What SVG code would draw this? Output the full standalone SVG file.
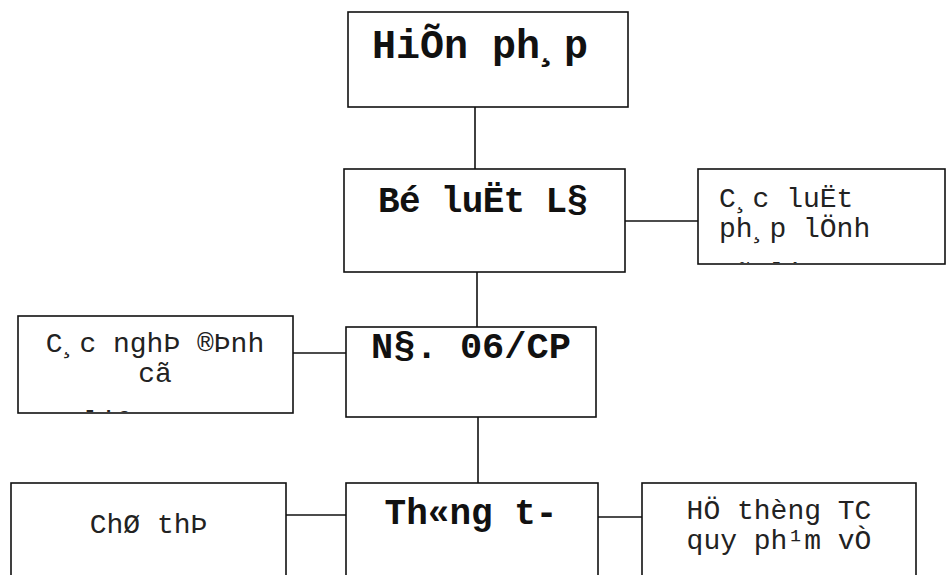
<svg xmlns="http://www.w3.org/2000/svg" width="948" height="575" viewBox="0 0 948 575">
<style>
.box{fill:#fff;stroke:#111;stroke-width:1.6}
.conn line{stroke:#111;stroke-width:1.6}
.h{font-family:"Liberation Mono","Courier New",monospace;font-weight:bold;fill:#111;text-anchor:middle}
.t{font-family:"Liberation Mono","Courier New",monospace;font-size:28px;fill:#222}
.c{text-anchor:middle}
</style>
<defs>
<clipPath id="cpR"><rect x="698" y="169" width="247" height="94"/></clipPath>
<clipPath id="cpL"><rect x="18" y="316" width="275" height="96"/></clipPath>
</defs>
<rect width="948" height="575" fill="#fff"/>
<g id="connectors" class="conn">
<line x1="475" y1="107" x2="475" y2="169"/>
<line x1="625" y1="221" x2="698" y2="221"/>
<line x1="477" y1="272" x2="477" y2="327"/>
<line x1="288" y1="353" x2="346" y2="353"/>
<line x1="478" y1="417" x2="478" y2="483"/>
<line x1="286" y1="515" x2="346" y2="515"/>
<line x1="598" y1="517" x2="642" y2="517"/>
</g>
<g id="hienphap">
<rect class="box" x="348" y="12" width="280" height="95"/>
<text class="h" x="480" y="58" font-size="40">HiÕn ph¸p</text>
</g>
<g id="boluat">
<rect class="box" x="344" y="169" width="281" height="103"/>
<text class="h" x="483" y="212" font-size="36" textLength="210" lengthAdjust="spacing">Bé luËt L§</text>
</g>
<g id="cacluat">
<rect class="box" x="698" y="169" width="247" height="95"/>
<g clip-path="url(#cpR)">
<text class="t" x="719" y="207">C¸c luËt</text>
<text class="t" x="719" y="237">ph¸p lÖnh</text>
<text class="t" x="719" y="282">cã liªn quan</text>
</g>
</g>
<g id="nghidinh">
<rect class="box" x="18" y="316" width="275" height="97"/>
<g clip-path="url(#cpL)">
<text class="t c" x="155" y="352">C¸c nghÞ ®Þnh</text>
<text class="t c" x="155" y="382">cã</text>
<text class="t" x="83" y="430">liªn quan</text>
</g>
</g>
<g id="nd06">
<rect class="box" x="346" y="327" width="250" height="90"/>
<text class="h" x="471" y="358" font-size="37">N§. 06/CP</text>
</g>
<g id="chithi">
<rect class="box" x="11" y="483" width="275" height="120"/>
<text class="t c" x="148.5" y="533">ChØ thÞ</text>
</g>
<g id="thongtu">
<rect class="box" x="346" y="483" width="252" height="120"/>
<text class="h" x="471" y="524" font-size="36">Th«ng t-</text>
</g>
<g id="hethong">
<rect class="box" x="642" y="483" width="274" height="120"/>
<text class="t c" x="779" y="519">HÖ thèng TC</text>
<text class="t c" x="779" y="549">quy ph¹m vÒ</text>
</g>
</svg>
